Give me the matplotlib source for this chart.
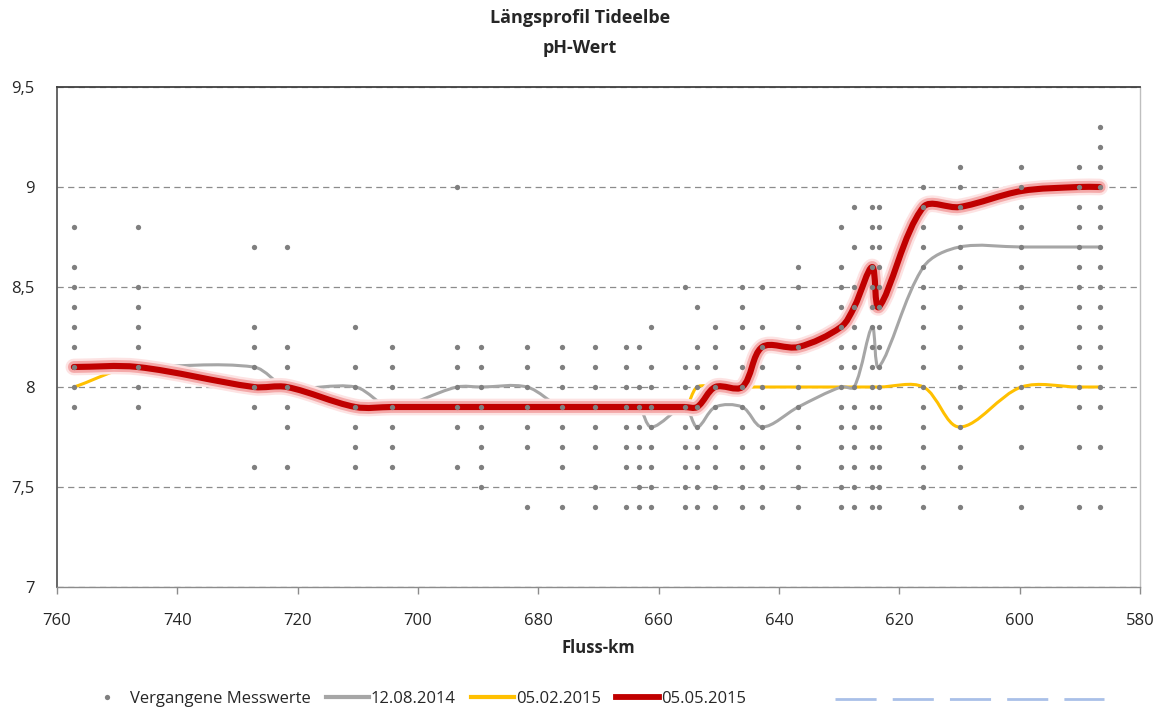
import matplotlib
matplotlib.use("Agg")
import matplotlib.pyplot as plt
import numpy as np
from matplotlib import font_manager, patheffects
from matplotlib.lines import Line2D
from matplotlib.patches import PathPatch
from matplotlib.path import Path

_have = {f.name for f in font_manager.fontManager.ttflist}
FONT = "Liberation Sans Narrow" if "Liberation Sans Narrow" in _have else "Open Sans"
plt.rcParams["font.family"] = [FONT, "DejaVu Sans"]

# measuring stations along the tidal Elbe (river km)
STATIONS_KM = [757.2, 746.6, 727.3, 721.8, 710.4, 704.4, 693.5, 689.5, 681.9, 676.1,
               670.6, 665.5, 663.3, 661.2, 655.7, 653.6, 650.6, 646.1, 642.8, 636.8,
               629.7, 627.5, 624.5, 623.4, 616.0, 610.0, 599.7, 590.2, 586.7]

# past pH readings per station
PAST_PH = [
    [8.8, 8.6, 8.5, 8.4, 8.3, 8.2, 8.1, 8.0, 7.9],
    [8.8, 8.5, 8.4, 8.3, 8.2, 8.1, 8.0, 7.9],
    [8.7, 8.3, 8.2, 8.1, 8.0, 7.9, 7.6],
    [8.7, 8.2, 8.1, 8.0, 7.9, 7.8, 7.6],
    [8.3, 8.1, 8.0, 7.9, 7.8, 7.7, 7.6],
    [8.2, 8.1, 8.0, 7.9, 7.8, 7.7, 7.6],
    [9.0, 8.2, 8.1, 8.0, 7.9, 7.8, 7.6],
    [8.2, 8.1, 8.0, 7.9, 7.8, 7.7, 7.6, 7.5],
    [8.2, 8.1, 8.0, 7.9, 7.8, 7.7, 7.4],
    [8.2, 8.1, 8.0, 7.9, 7.8, 7.7, 7.6, 7.4],
    [8.2, 8.1, 8.0, 7.9, 7.8, 7.7, 7.5, 7.4],
    [8.2, 8.1, 8.0, 7.9, 7.8, 7.7, 7.6, 7.4],
    [8.2, 8.0, 7.9, 7.8, 7.7, 7.6, 7.5, 7.4],
    [8.3, 8.1, 8.0, 7.9, 7.8, 7.7, 7.6, 7.5, 7.4],
    [8.5, 8.1, 8.0, 7.9, 7.8, 7.7, 7.6, 7.5, 7.4],
    [8.4, 8.2, 8.1, 8.0, 7.9, 7.8, 7.7, 7.6, 7.5, 7.4],
    [8.3, 8.2, 8.1, 8.0, 7.9, 7.8, 7.7, 7.6, 7.5, 7.4],
    [8.5, 8.4, 8.3, 8.2, 8.1, 8.0, 7.9, 7.8, 7.7, 7.6, 7.5, 7.4],
    [8.5, 8.3, 8.2, 8.1, 8.0, 7.9, 7.8, 7.7, 7.6, 7.5, 7.4],
    [8.6, 8.5, 8.3, 8.2, 8.1, 8.0, 7.9, 7.8, 7.7, 7.6, 7.5, 7.4],
    [8.8, 8.6, 8.5, 8.4, 8.3, 8.2, 8.1, 8.0, 7.9, 7.8, 7.7, 7.6, 7.5, 7.4],
    [8.9, 8.7, 8.5, 8.4, 8.3, 8.2, 8.1, 8.0, 7.9, 7.8, 7.7, 7.6, 7.5, 7.4],
    [8.9, 8.8, 8.7, 8.6, 8.5, 8.4, 8.3, 8.2, 8.1, 8.0, 7.9, 7.8, 7.7, 7.6, 7.5, 7.4],
    [8.9, 8.8, 8.7, 8.6, 8.5, 8.4, 8.3, 8.2, 8.1, 8.0, 7.9, 7.8, 7.7, 7.6, 7.5, 7.4],
    [9.0, 8.9, 8.8, 8.7, 8.6, 8.5, 8.4, 8.3, 8.2, 8.1, 8.0, 7.9, 7.8, 7.7, 7.6, 7.5, 7.4],
    [9.1, 9.0, 8.9, 8.8, 8.7, 8.6, 8.5, 8.4, 8.3, 8.2, 8.1, 8.0, 7.9, 7.8, 7.7, 7.6, 7.4],
    [9.1, 9.0, 8.9, 8.8, 8.7, 8.6, 8.5, 8.4, 8.3, 8.2, 8.1, 8.0, 7.9, 7.7, 7.4],
    [9.1, 9.0, 8.9, 8.8, 8.7, 8.6, 8.5, 8.4, 8.3, 8.2, 8.1, 8.0, 7.9, 7.7, 7.4],
    [9.3, 9.2, 9.1, 9.0, 8.9, 8.8, 8.7, 8.6, 8.5, 8.4, 8.3, 8.2, 8.1, 8.0, 7.9, 7.7, 7.4],
]

# survey runs
PH_20140812 = [8.1, 8.1, 8.1, 8.0, 8.0, 7.9, 8.0, 8.0, 8.0, 7.9,
               7.9, 7.9, 7.9, 7.8, 7.9, 7.8, 7.9, 7.9, 7.8, 7.9,
               8.0, 8.0, 8.3, 8.1, 8.6, 8.7, 8.7, 8.7, 8.7]
PH_20150205 = [8.0, 8.1, 8.0, 8.0, 7.9, 7.9, 7.9, 7.9, 7.9, 7.9,
               7.9, 7.9, 7.9, 7.9, 7.9, 8.0, 8.0, 8.0, 8.0, 8.0,
               8.0, 8.0, 8.0, 8.0, 8.0, 7.8, 8.0, 8.0, 8.0]
PH_20150505 = [8.1, 8.1, 8.0, 8.0, 7.9, 7.9, 7.9, 7.9, 7.9, 7.9,
               7.9, 7.9, 7.9, 7.9, 7.9, 7.9, 8.0, 8.0, 8.2, 8.2,
               8.3, 8.4, 8.6, 8.4, 8.9, 8.9, 8.98, 9.0, 9.0]

GREY = "#a6a6a6"
YELLOW = "#ffc000"
RED = "#c00000"
DOT = "#7f7f7f"


def smooth_path(ax, x, y):
    """Bezier curve through the points (smoothed in screen space, chord weighted)."""
    pts = ax.transData.transform(np.column_stack([x, y]).astype(float))
    p = np.vstack([pts[:1], pts, pts[-1:]])
    d = np.hypot(*np.diff(p, axis=0).T)
    verts, codes = [pts[0]], [Path.MOVETO]
    for i in range(1, len(p) - 2):
        seg = d[i]
        c1 = p[i] + (p[i + 1] - p[i - 1]) * seg / (d[i - 1] + seg) / 3
        c2 = p[i + 1] - (p[i + 2] - p[i]) * seg / (seg + d[i + 1]) / 3
        verts += [c1, c2, p[i + 1]]
        codes += [Path.CURVE4] * 3
    return Path(ax.transData.inverted().transform(np.array(verts)), codes)


def add_curve(ax, y, color, lw, z, effects=None):
    patch = PathPatch(smooth_path(ax, STATIONS_KM, y), fill=False, edgecolor=color, lw=lw,
                      capstyle="round", joinstyle="round", zorder=z)
    if effects:
        patch.set_path_effects(effects)
    ax.add_patch(patch)


fig = plt.figure(figsize=(11.6, 7.11), dpi=100)
ax = fig.add_axes([57 / 1160, 1 - 587 / 711, 1083 / 1160, 500 / 711])

ax.set_xlim(760, 580)
ax.set_ylim(7, 9.5)

add_curve(ax, PH_20150205, YELLOW, 2.2, 3)
add_curve(ax, PH_20140812, GREY, 2.2, 4)
glow = [patheffects.Stroke(linewidth=12, foreground="#fde3e3"),
        patheffects.Stroke(linewidth=8.5, foreground="#f4a9a9"),
        patheffects.Normal()]
add_curve(ax, PH_20150505, RED, 4.4, 5, glow)

xs = [km for km, vals in zip(STATIONS_KM, PAST_PH) for _ in vals]
ys = [v for vals in PAST_PH for v in vals]
ax.plot(xs, ys, "o", ms=3.8, mew=0, color=DOT, zorder=6)

ax.set_xticks(np.arange(760, 579, -20))
ax.set_yticks(np.arange(7, 9.51, 0.5))
ax.set_yticklabels([f"{v:g}".replace(".", ",") for v in np.arange(7, 9.51, 0.5)])
ax.tick_params(axis="x", direction="out", length=5, width=1, color="#8c8c8c",
               pad=14, labelsize=12, labelcolor="#262626")
ax.tick_params(axis="y", length=0, pad=16, labelsize=12, labelcolor="#262626")
ax.grid(axis="y", color="#8c8c8c", lw=0.9, linestyle=(0, (5, 3.5)))
ax.set_axisbelow(True)

for side, col in [("left", "#595959"), ("top", "#404040"), ("right", "#bfbfbf"),
                  ("bottom", "#8c8c8c")]:
    ax.spines[side].set_color(col)
    ax.spines[side].set_linewidth(1.3 if side in ("left", "top") else 1.0)

ax.set_xlabel("Fluss-km", fontsize=12, fontweight="bold", labelpad=7, color="#262626")

fig.text(0.5, 1 - 18 / 711, "Längsprofil Tideelbe", ha="center", va="center",
         fontsize=13, fontweight="bold", color="#262626")
fig.text(0.5, 1 - 48 / 711, "pH-Wert", ha="center", va="center",
         fontsize=13, fontweight="bold", color="#262626")

handles = [
    Line2D([], [], ls="none", marker="o", ms=3.8, mew=0, color=DOT),
    Line2D([], [], color=GREY, lw=3),
    Line2D([], [], color=YELLOW, lw=3),
    Line2D([], [], color=RED, lw=4.2),
]
labels = ["Vergangene Messwerte", "12.08.2014", "05.02.2015", "05.05.2015"]
fig.legend(handles, labels, loc="center left", bbox_to_anchor=(70 / 1160, 1 - 699 / 711),
           ncol=4, frameon=False, fontsize=12, handlelength=2.6, handletextpad=0.1,
           columnspacing=0.9, labelcolor="#262626")

# unnamed dashed series shown at the end of the legend row
fig.add_artist(Line2D([835 / 1160, 1104 / 1160], [1 - 699 / 711] * 2,
                      transform=fig.transFigure, color="#a9c0e8", lw=2,
                      linestyle=(0, (14.8, 5.8))))

fig.savefig("out.png", dpi=100)
